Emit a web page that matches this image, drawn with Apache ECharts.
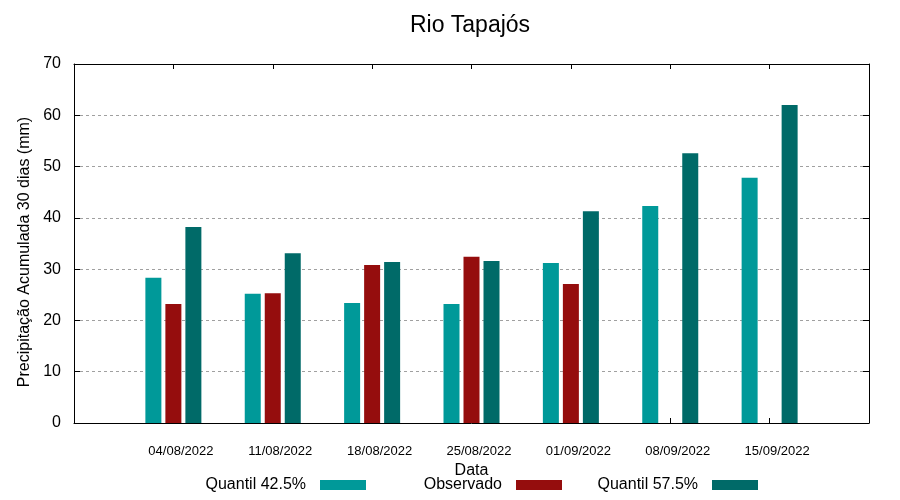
<!DOCTYPE html>
<html>
<head>
<meta charset="utf-8">
<script src="https://cdn.jsdelivr.net/npm/echarts@6/dist/echarts.min.js"></script>
<style>html,body{margin:0;padding:0;background:#fff}#c{width:900px;height:500px}</style>
</head>
<body>
<div id="c"></div>
<script>
const categories = ['04/08/2022','11/08/2022','18/08/2022','25/08/2022','01/09/2022','08/09/2022','15/09/2022'];
const quantil425 = [28.3, 25.2, 23.4, 23.2, 31.2, 42.3, 47.8];
const observado = [23.2, 25.3, 30.8, 32.4, 27.1, null, null];
const quantil575 = [38.2, 33.1, 31.4, 31.6, 41.3, 52.6, 62.0];
const seriesNames = ['Quantil 42.5%', 'Observado', 'Quantil 57.5%'];
const colors = ['#009999', '#950d0d', '#006a68'];

const FONT = 'Liberation Sans, Arial, sans-serif';
const pad = arr => [null].concat(arr, [null]);
const cats = [''].concat(categories, ['']);

const chart = echarts.init(document.getElementById('c'), null, {renderer: 'canvas'});

const legendRights = [529, 333, 137];
const legends = seriesNames.map((n, i) => ({
  data: [n],
  align: 'right',
  orient: 'horizontal',
  right: legendRights[i],
  top: 472,
  icon: 'rect',
  itemWidth: 46,
  itemHeight: 10,
  selectedMode: false,
  textStyle: {fontFamily: FONT, fontSize: 16, color: '#000', padding: [0, 9, 0, 0]}
}));

const xBase = {
  type: 'category',
  data: cats,
  boundaryGap: false,
  axisLine: {show: true, onZero: false, lineStyle: {color: '#000', width: 1}},
  axisTick: {show: true, inside: true, length: 5, lineStyle: {color: '#000'}},
  splitLine: {show: false}
};

const yBase = {
  type: 'value',
  min: 0, max: 70, interval: 10,
  axisLine: {show: true, onZero: false, lineStyle: {color: '#000', width: 1}},
  axisTick: {show: true, inside: true, length: 6, lineStyle: {color: '#000'}}
};

const option = {
  animation: false,
  color: colors,
  title: {
    text: 'Rio Tapajós',
    left: 465,
    textAlign: 'center',
    top: 9,
    textStyle: {fontFamily: FONT, fontSize: 23, fontWeight: 'normal', color: '#000'}
  },
  legend: legends,
  grid: {left: 74, right: 31, top: 64, bottom: 77, containLabel: false},
  xAxis: [
    Object.assign({}, xBase, {
      position: 'bottom',
      name: 'Data',
      nameLocation: 'middle',
      nameGap: 38,
      nameTextStyle: {fontFamily: FONT, fontSize: 16, color: '#000'},
      axisLabel: {show: true, interval: 0, margin: 22, fontFamily: FONT, fontSize: 13, color: '#000', padding: [0, 0, 0, 15]}
    }),
    Object.assign({}, xBase, {position: 'top', z: 5, axisLabel: {show: false}})
  ],
  yAxis: [
    Object.assign({}, yBase, {
      position: 'left',
      name: 'Precipitação Acumulada 30 dias (mm)',
      nameLocation: 'middle',
      nameGap: 41,
      nameTextStyle: {fontFamily: FONT, fontSize: 16, color: '#000', padding: [0, 17, 0, 0]},
      axisLabel: {margin: 13, fontFamily: FONT, fontSize: 16, color: '#000'},
      splitLine: {show: true, showMinLine: false, showMaxLine: false, lineStyle: {color: '#a0a0a0', width: 1, type: [3, 3]}}
    }),
    Object.assign({}, yBase, {
      position: 'right',
      axisLabel: {show: false},
      splitLine: {show: false}
    })
  ],
  series: [
    {name: seriesNames[0], type: 'bar', data: pad(quantil425)},
    {name: seriesNames[1], type: 'bar', data: pad(observado)},
    {name: seriesNames[2], type: 'bar', data: pad(quantil575)}
  ].map(s => Object.assign(s, {barWidth: 16, barGap: '25%', xAxisIndex: 0, yAxisIndex: 0}))
};

chart.setOption(option);
</script>
</body>
</html>
